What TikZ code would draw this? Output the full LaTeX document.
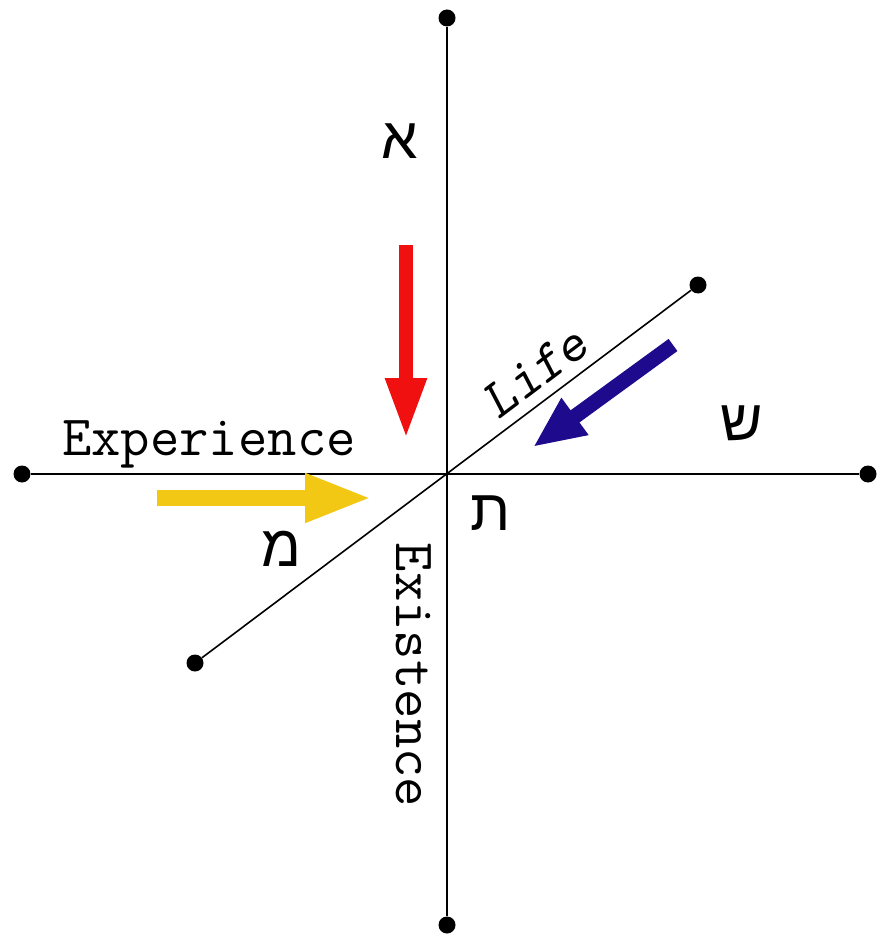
\documentclass[tikz,border=0pt]{standalone}
\usepackage{fontspec}
\newfontfamily\hebfont[Script=Hebrew]{Liberation Sans}
\TeXXeTstate=1
\usetikzlibrary{arrows.meta}
\definecolor{arrowred}{HTML}{F01010}
\definecolor{arrowgold}{HTML}{F2C814}
\definecolor{arrowblue}{HTML}{1E0A8C}

\begin{document}
\begin{tikzpicture}[x=1pt,y=-1pt,
  axis/.style={line width=1.6pt},
  enddot/.style={circle, fill=black, inner sep=0pt, minimum size=17pt},
  hebletter/.style={font=\hebfont\fontsize{58}{58}\selectfont, inner sep=0pt},
  axislabel/.style={font=\ttfamily\fontsize{57}{57}\selectfont, inner sep=0pt}]
  \useasboundingbox (0,0) rectangle (878,941);
  % end points of the three axes
  \node[enddot] (top) at (447,18) {};
  \node[enddot] (bottom) at (447,925) {};
  \node[enddot] (left) at (22,474) {};
  \node[enddot] (right) at (868,474) {};
  \node[enddot] (upright) at (698,285) {};
  \node[enddot] (lowleft) at (195,663) {};
  \draw[axis] (top) -- (bottom);
  \draw[axis] (left) -- (right);
  \draw[axis] (lowleft) -- (upright);
  % letters
  \node[hebletter] (aleph) at (400,141) {\beginR א\endR};
  \node[hebletter] (shin) at (742,423) {\beginR ש\endR};
  \node[hebletter] (tav) at (491,513) {\beginR ת\endR};
  \node[hebletter] (mem) at (281,549) {\beginR מ\endR};
  % axis names
  \node[axislabel, anchor=base west] (experience) at (62,455) {Experience};
  \node[axislabel, rotate=-90] (existence) at (414,675) {Existence};
  \node[axislabel, font=\ttfamily\slshape\fontsize{55}{55}\selectfont, rotate=37] (life) at (535,372) {Life};
  % the three arrows
  \coordinate (redtail) at (406,245);
  \coordinate (redtip) at (406,439);
  \coordinate (goldtail) at (157,498);
  \coordinate (goldtip) at (372,498);
  \coordinate (bluetail) at (673,345);
  \coordinate (bluetip) at (533,447);
  \draw[arrowred, line width=14pt, -{Triangle[width=38pt,length=61pt]}] (redtail) -- (redtip);
  \draw[arrowgold, line width=16pt, -{Triangle[width=45pt,length=67pt]}] (goldtail) -- (goldtip);
  \draw[arrowblue, line width=15pt, -{Triangle[width=42pt,length=52pt]}] (bluetail) -- (bluetip);
\end{tikzpicture}
\end{document}
